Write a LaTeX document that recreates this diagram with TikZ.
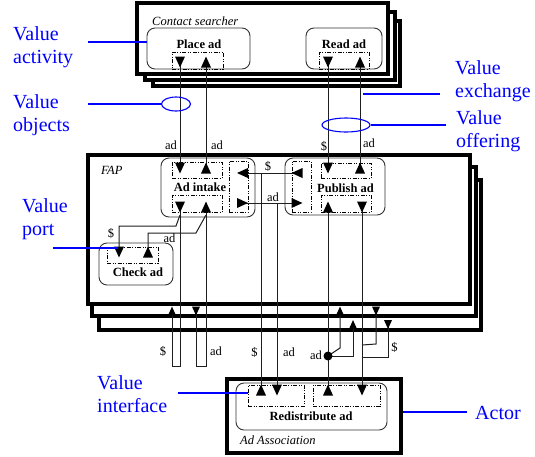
\documentclass[tikz,border=0pt]{standalone}
\usepackage{fontspec}
\setmainfont{Liberation Serif}
\usetikzlibrary{fit,shapes.geometric}
\tikzset{
  actorbox/.style={draw, fill=white, line width=4pt, inner sep=0pt},
  actbox/.style={draw=black!80, rounded corners=8pt, line width=0.9pt, inner sep=0pt},
  portbox/.style={draw, line width=0.8pt, dash pattern=on 4pt off 1.5pt on 1pt off 1.5pt on 1pt off 1.5pt, inner sep=0pt},
  conn/.style={draw=black!88, line width=1pt},
  acttext/.style={font=\fontsize{12.5}{14}\selectfont\bfseries, inner sep=0pt},
  actortext/.style={font=\fontsize{12.5}{14}\selectfont\itshape, inner sep=0pt, anchor=west},
  objtext/.style={font=\fontsize{12.5}{14}\selectfont, inner sep=0pt},
  anno/.style={text=blue, font=\fontsize{20}{23}\selectfont, align=left, inner sep=0pt, anchor=north west},
  annoline/.style={draw=blue, line width=1.1pt},
  annoell/.style={draw=blue, line width=1.1pt, ellipse, inner sep=0pt},
  tdown/.pic={\fill (-5,-5.5) -- (5,-5.5) -- (0,5.5) -- cycle;},
  tup/.pic={\fill (-5,5.5) -- (5,5.5) -- (0,-5.5) -- cycle;},
  tleft/.pic={\fill (5.5,-5) -- (5.5,5) -- (-5.5,0) -- cycle;},
  tright/.pic={\fill (-5.5,-5) -- (-5.5,5) -- (5.5,0) -- cycle;},
}
\begin{document}
\begin{tikzpicture}[x=1pt,y=-1pt]
\useasboundingbox (0,0) rectangle (535,456);

% ---- actors ----
\node[actorbox, fit={(153,21) (400,86)}] (cs3) {};
\node[actorbox, fit={(145,12) (395,80)}] (cs2) {};
\node[actorbox, fit={(137,3) (388,74)}] (cs1) {};
\node[actortext] (cs-t) at (152,21) {Contact searcher};

\node[actorbox, fit={(98.5,180) (481,330)}] (fap3) {};
\node[actorbox, fit={(92,167) (476,316)}] (fap2) {};
\node[actorbox, fit={(87.5,155) (470,303.5)}] (fap1) {};
\node[actortext] (fap-t) at (101,170) {FAP};

\node[actorbox, fit={(227,379) (401,453)}] (aa) {};
\node[actortext] (aa-t) at (240,440) {Ad Association};

% ---- activities and ports ----
\node[actbox, fit={(147,28) (250,69)}] (placead) {};
\node[acttext] (placead-t) at (199,44) {Place ad};
\node[portbox, fit={(172,52) (223,69)}] (placead-p) {};

\node[actbox, fit={(306,28) (382,69)}] (readad) {};
\node[acttext] (readad-t) at (344,44) {Read ad};
\node[portbox, fit={(319,52) (369,69)}] (readad-p) {};

\node[actbox, fit={(161,158) (255,217)}] (adintake) {};
\node[acttext] (adintake-t) at (200,187.5) {Ad intake};
\node[portbox, fit={(172,162) (222,178)}] (adintake-p1) {};
\node[portbox, fit={(172,195) (222,212)}] (adintake-p2) {};
\node[portbox, fit={(229,161) (248,212)}] (adintake-p3) {};

\node[actbox, fit={(285,158) (385,215)}] (publish) {};
\node[acttext] (publish-t) at (345.5,188) {Publish ad};
\node[portbox, fit={(292,161) (311,212)}] (publish-p1) {};
\node[portbox, fit={(321,163) (371,178)}] (publish-p2) {};
\node[portbox, fit={(321,195) (371,212)}] (publish-p3) {};

\node[actbox, fit={(99,243) (173,285)}] (check) {};
\node[acttext] (check-t) at (138,272) {Check ad};
\node[portbox, fit={(107,247) (158,263)}] (check-p) {};

\node[actbox, fit={(236,383) (387,430)}] (redis) {};
\node[acttext] (redis-t) at (311,416) {Redistribute ad};
\node[portbox, fit={(248,385) (304,406)}] (redis-p1) {};
\node[portbox, fit={(313,385) (380,406)}] (redis-p2) {};

% ---- port arrow points ----
\coordinate (pa1) at (180,62);  \coordinate (pa2) at (206,62);
\coordinate (ra1) at (328,62);  \coordinate (ra2) at (360,62);
\coordinate (ai1) at (180,168); \coordinate (ai2) at (206,168);
\coordinate (ai3) at (242.5,173); \coordinate (ai4) at (242.5,203);
\coordinate (ai5) at (180,207); \coordinate (ai6) at (206,207);
\coordinate (pb1) at (297,173); \coordinate (pb2) at (297,203);
\coordinate (pb3) at (328,168); \coordinate (pb4) at (360,168);
\coordinate (pb5) at (328,207); \coordinate (pb6) at (362,207);
\coordinate (ck1) at (119,252); \coordinate (ck2) at (148,252);
\coordinate (rd1) at (261,390); \coordinate (rd2) at (277,390);
\coordinate (rd3) at (328,390); \coordinate (rd4) at (362,390);
\coordinate (f1) at (172,311);  \coordinate (f2) at (196,311);
\coordinate (f3) at (340,311);  \coordinate (f4) at (376,311);
\coordinate (f5) at (353,324.5);  \coordinate (f6) at (388,324.5);
\coordinate (dot) at (328,356);
\coordinate (j1) at (362,345);  \coordinate (j2) at (362,357);

% ---- connectors ----
\draw[conn] (pa1) -- (ai1);
\draw[conn] (pa2) -- (ai2);
\draw[conn] (ra1) -- (pb3);
\draw[conn] (ra2) -- (pb4);
\draw[conn] (ai3) -- (pb1);
\draw[conn] (ai4) -- (pb2);
\draw[conn] (ai3 -| rd1) -- (rd1);
\draw[conn] (ai4 -| rd2) -- (rd2);
\draw[conn] (pb5) -- (rd3);
\draw[conn] (pb6) -- (rd4);
\draw[conn] (ai5) -- ++(0,159) -| (f1);
\draw[conn] (ai6) -- ++(0,159) -| (f2);
\draw[conn] (ai5) ++(0,8) -- ++(-4,11) -| (ck1);
\draw[conn] (ai6) ++(0,8) -- ++(-10,18) -| (ck2);
\draw[conn] (dot) -- ++(12,-8) -- (f3);
\draw[conn] (dot) -| (f5);
\draw[conn] (j1) -- ++(14,-1) -- (f4);
\draw[conn] (j2) -| (f6);
\fill (dot) circle (4.5);

% ---- arrow heads ----
\pic at (pa1) {tdown}; \pic at (pa2) {tup};
\pic at (ra1) {tdown}; \pic at (ra2) {tup};
\pic at (ai1) {tdown}; \pic at (ai2) {tup};
\pic at (ai3) {tleft}; \pic at (ai4) {tright};
\pic at (ai5) {tdown}; \pic at (ai6) {tup};
\pic at (pb1) {tleft}; \pic at (pb2) {tright};
\pic at (pb3) {tdown}; \pic at (pb4) {tup};
\pic at (pb5) {tup};   \pic at (pb6) {tdown};
\pic at (ck1) {tdown}; \pic at (ck2) {tup};
\pic at (rd1) {tup};   \pic at (rd2) {tdown};
\pic at (rd3) {tup};   \pic at (rd4) {tdown};
\pic[scale=0.8] at (f1) {tup}; \pic[scale=0.8] at (f2) {tdown};
\pic[scale=0.8] at (f3) {tup}; \pic[scale=0.8] at (f4) {tdown};
\pic[scale=0.8] at (f5) {tup}; \pic[scale=0.8] at (f6) {tdown};

% ---- value object labels ----
\node[objtext] (o1) at (171,145) {ad};
\node[objtext] (o2) at (217,145) {ad};
\node[objtext] (o3) at (324,146) {\$};
\node[objtext] (o4) at (369,143) {ad};
\node[objtext] (o5) at (268,166) {\$};
\node[objtext] (o6) at (273,197) {ad};
\node[objtext] (o7) at (111,233) {\$};
\node[objtext] (o8) at (169.5,238.5) {ad};
\node[objtext] (o9) at (163,351) {\$};
\node[objtext] (o10) at (216,351) {ad};
\node[objtext] (o11) at (254.5,352) {\$};
\node[objtext] (o12) at (289,352) {ad};
\node[objtext] (o13) at (316,355) {ad};
\node[objtext] (o14) at (394.5,347) {\$};

% ---- annotations ----
\node[anno] (l-act) at (13,26.3) {Value\\activity};
\node[anno] (l-obj) at (13,94.3) {Value\\objects};
\node[anno] (l-port) at (22,198.3) {Value\\port};
\node[anno] (l-exch) at (455,60.3) {Value\\exchange};
\node[anno] (l-off) at (456,110.3) {Value\\offering};
\node[anno] (l-int) at (97,375.3) {Value\\interface};
\node[anno] (l-actor) at (475,405.8) {Actor};

\node[annoell, minimum width=29, minimum height=14] (e1) at (176,104) {};
\node[annoell, minimum width=48, minimum height=14] (e2) at (346,125) {};

\coordinate (a-act) at (88,42);
\coordinate (a-obj) at (88,104);
\coordinate (a-exch1) at (363,94); \coordinate (a-exch2) at (440,94);
\coordinate (a-off) at (446,125);
\coordinate (a-port1) at (53,248); \coordinate (a-port2) at (118,248);
\coordinate (a-int) at (178,393);
\coordinate (a-actor) at (467,412);

\draw[annoline] (a-act) -- (a-act -| placead.west);
\draw[annoline] (a-obj) -- (e1.west);
\draw[annoline] (a-exch1) -- (a-exch2);
\draw[annoline] (e2.east) -- (a-off);
\draw[annoline] (a-port1) -- (a-port2);
\draw[annoline] (a-int) -- (a-int -| redis-p1.west);
\draw[annoline] (a-actor) -- (a-actor -| aa.east);
\end{tikzpicture}
\end{document}
